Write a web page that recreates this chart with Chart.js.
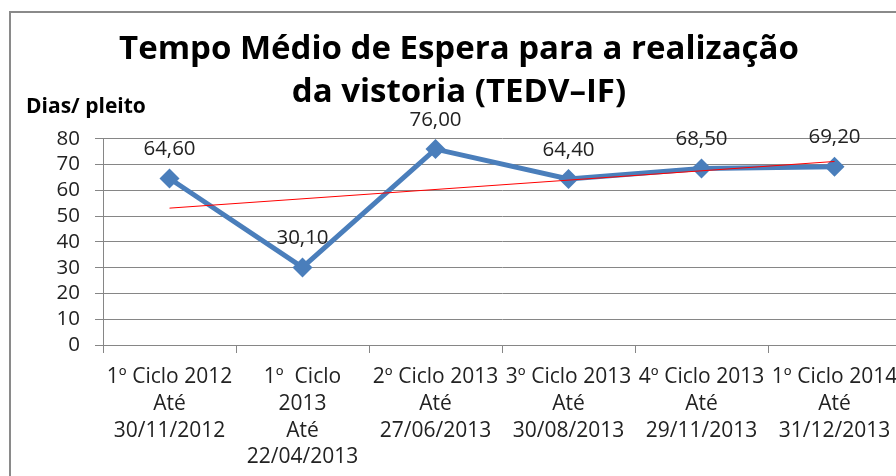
<!DOCTYPE html>
<html>
<head>
<meta charset="utf-8">
<script src="https://cdn.jsdelivr.net/npm/chart.js@4/dist/chart.umd.min.js"></script>
<style>
  html, body { margin: 0; padding: 0; background: #fff; overflow: hidden; width: 896px; height: 476px; }
  #frame { position: absolute; left: 9px; top: 11px; width: 1000px; height: 1000px; border-left: 2px solid #8a8a8a; border-top: 2px solid #8a8a8a; box-sizing: border-box; }
  #c { position: absolute; left: 0; top: 0; }
</style>
</head>
<body>
<div id="frame"></div>
<canvas id="c" width="918" height="476"></canvas>
<script>
const titleLines = ["Tempo Médio de Espera para a realização", "da vistoria (TEDV\u2013IF)"];
const yAxisLabel = "Dias/ pleito";
const categories = [
  ["1º Ciclo 2012", "Até", "30/11/2012"],
  ["1º  Ciclo", "2013", "Até", "22/04/2013"],
  ["2º Ciclo 2013", "Até", "27/06/2013"],
  ["3º Ciclo 2013", "Até", "30/08/2013"],
  ["4º Ciclo 2013", "Até", "29/11/2013"],
  ["1º Ciclo 2014", "Até", "31/12/2013"]
];
const tempoMedio = [64.6, 30.1, 76.0, 64.4, 68.5, 69.2];
const tendencia = [53.1, null, null, null, null, 71.2];
const yMin = 0, yMax = 80, yStep = 10;

const FONT = "'Open Sans', Lato, sans-serif";

const labelsPlugin = {
  id: 'extras',
  afterDatasetsDraw(chart) {
    const ctx = chart.ctx;
    const meta = chart.getDatasetMeta(1);
    ctx.save();
    ctx.fillStyle = '#222';
    ctx.font = "20.5px " + FONT;
    ctx.textAlign = 'center';
    ctx.textBaseline = 'middle';
    meta.data.forEach((pt, i) => {
      ctx.fillText(tempoMedio[i].toFixed(2).replace('.', ','), pt.x, pt.y - 29);
    });
    ctx.font = "bold 21px " + FONT;
    ctx.textAlign = 'left';
    ctx.fillStyle = '#000';
    ctx.fillText(yAxisLabel, 26, 107);
    ctx.restore();
  }
};

new Chart(document.getElementById('c'), {
  type: 'line',
  data: {
    labels: categories,
    datasets: [
      {
        label: 'Tendência',
        data: tendencia,
        borderColor: '#ff0000',
        borderWidth: 1,
        pointRadius: 0,
        spanGaps: true,
        order: 0,
        tension: 0
      },
      {
        label: 'TEDV-IF',
        data: tempoMedio,
        borderColor: '#4a7ebb',
        backgroundColor: '#4a7ebb',
        borderWidth: 5,
        pointStyle: 'rectRot',
        pointRadius: 10,
        pointBorderWidth: 0,
        order: 1,
        tension: 0
      }
    ]
  },
  options: {
    responsive: false,
    animation: false,
    devicePixelRatio: 1,
    layout: { padding: { left: 17, right: 17, top: 0, bottom: 0 } },
    plugins: {
      legend: { display: false },
      tooltip: { enabled: false },
      title: {
        display: true,
        text: titleLines,
        color: '#000',
        font: { family: FONT, size: 33, weight: 'bold', lineHeight: 1.3 },
        padding: { top: 28.5, bottom: 24.5 }
      }
    },
    scales: {
      x: {
        offset: true,
        grid: { display: true, drawOnChartArea: false, offset: true, tickLength: 8, color: '#868686' },
        border: { color: '#868686', width: 1 },
        ticks: {
          autoSkip: false, maxRotation: 0, minRotation: 0, padding: 11,
          color: '#222',
          font: { family: FONT, size: 21, lineHeight: 1.27 }
        },
        afterFit(s) { s.height = 131; }
      },
      y: {
        min: yMin, max: yMax,
        grid: { color: '#868686', tickLength: 8 },
        border: { color: '#868686', width: 1 },
        ticks: { stepSize: yStep, autoSkip: false, padding: 15, color: '#222', font: { family: FONT, size: 20.5 } },
        afterFit(s) { s.width = 86; }
      }
    }
  },
  plugins: [labelsPlugin]
});
</script>
</body>
</html>
